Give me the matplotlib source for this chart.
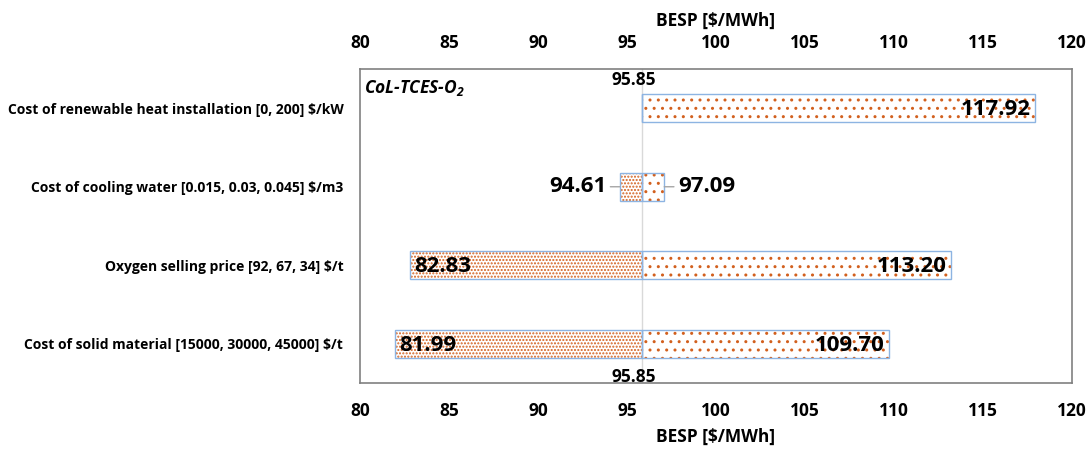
import matplotlib
matplotlib.use("Agg")
import matplotlib.pyplot as plt

# Tornado chart data (bottom to top)
categories = [
    "Cost of solid material [15000, 30000, 45000] $/t",
    "Oxygen selling price [92, 67, 34] $/t",
    "Cost of cooling water [0.015, 0.03, 0.045] $/m3",
    "Cost of renewable heat installation [0, 200] $/kW",
]
low_values = [81.99, 82.83, 94.61, 95.85]
high_values = [109.70, 113.20, 97.09, 117.92]
base_value = 95.85
x_ticks = [80, 85, 90, 95, 100, 105, 110, 115, 120]

plt.rcParams['font.family'] = ['Open Sans', 'DejaVu Sans']
plt.rcParams['font.weight'] = 'bold'
plt.rcParams['mathtext.fontset'] = 'custom'
plt.rcParams['mathtext.bfit'] = 'Open Sans:italic:bold'
plt.rcParams['mathtext.bf'] = 'Open Sans:italic:bold'
plt.rcParams['hatch.linewidth'] = 1.0

dot_color = '#D2601E'
edge_color = '#8DB4E2'

fig = plt.figure(figsize=(10.91, 4.53), dpi=100)
ax = fig.add_axes([0.33, 0.1545, 0.6526, 0.6932])

ypos = list(range(len(categories)))
bar_h = 0.36

ax.axvline(base_value, color='#D9D9D9', lw=1, zorder=0)

lw_left = [base_value - l for l in low_values]
lw_right = [h - base_value for h in high_values]

# left bars: dense dots
ax.barh(ypos, [-w for w in lw_left], left=base_value, height=bar_h,
        color='none', hatch='.....', edgecolor=dot_color, linewidth=0, zorder=2)
ax.barh(ypos, [-w for w in lw_left], left=base_value, height=bar_h,
        fill=False, edgecolor=edge_color, linewidth=1, zorder=3)
# right bars: sparse dots
ax.barh(ypos, lw_right, left=base_value, height=bar_h,
        color='none', hatch='..', edgecolor=dot_color, linewidth=0, zorder=2)
ax.barh(ypos, lw_right, left=base_value, height=bar_h,
        fill=False, edgecolor=edge_color, linewidth=1, zorder=3)

val_fs = 16
for i in ypos:
    lo, hi = low_values[i], high_values[i]
    if i == 2:
        ax.annotate(f"{lo:.2f}", xy=(lo, i), xytext=(-10, 0), textcoords='offset points',
                    ha='right', va='center', fontsize=val_fs, fontweight='bold',
                    arrowprops=dict(arrowstyle='-', color='#A6A6A6', lw=1, shrinkA=1, shrinkB=0))
        ax.annotate(f"{hi:.2f}", xy=(hi, i), xytext=(10, 0), textcoords='offset points',
                    ha='left', va='center', fontsize=val_fs, fontweight='bold',
                    arrowprops=dict(arrowstyle='-', color='#A6A6A6', lw=1, shrinkA=1, shrinkB=0))
    elif i == 3:
        ax.annotate(f"{lo:.2f}", xy=(lo, i + bar_h / 2), xytext=(-6, 10), textcoords='offset points',
                    ha='center', va='center', fontsize=12.5, fontweight='bold', zorder=5)
        ax.annotate(f"{hi:.2f}", xy=(hi, i), xytext=(-3, -1), textcoords='offset points',
                    ha='right', va='center', fontsize=val_fs, fontweight='bold', zorder=5)
    else:
        ax.annotate(f"{lo:.2f}", xy=(lo, i), xytext=(3, -1), textcoords='offset points',
                    ha='left', va='center', fontsize=val_fs, fontweight='bold', zorder=5)
        ax.annotate(f"{hi:.2f}", xy=(hi, i), xytext=(-3, -1), textcoords='offset points',
                    ha='right', va='center', fontsize=val_fs, fontweight='bold', zorder=5)

# base label below the bottom bar
ax.annotate(f"{base_value:.2f}", xy=(base_value, 0 - bar_h / 2), xytext=(-6, -14),
            textcoords='offset points', ha='center', va='center', fontsize=12.5, fontweight='bold')

ax.text(0.006, 0.94, r"CoL-TCES-O$_\mathbf{2}$", transform=ax.transAxes, fontsize=12.5,
        fontweight='bold', style='italic', ha='left', va='center')

ax.set_xlim(80, 120)
ax.set_ylim(-0.5, 3.5)
ax.set_xticks(x_ticks)
ax.set_xticklabels([str(t) for t in x_ticks], fontsize=12.5, fontweight='bold')
ax.tick_params(axis='x', length=0, pad=14)
ax.set_yticks(ypos)
ax.set_yticklabels(categories, fontsize=10, fontweight='bold')
ax.tick_params(axis='y', length=0, pad=12)
ax.set_xlabel("BESP [$/MWh]", fontsize=12.5, fontweight='bold', labelpad=5)

top = ax.secondary_xaxis('top')
top.set_xticks(x_ticks)
top.set_xticklabels([str(t) for t in x_ticks], fontsize=12.5, fontweight='bold')
top.tick_params(axis='x', length=0, pad=12)
top.set_xlabel("BESP [$/MWh]", fontsize=12.5, fontweight='bold', labelpad=6)
for s in top.spines.values():
    s.set_visible(False)

for s in ax.spines.values():
    s.set_color('#808080')
    s.set_linewidth(1.2)

fig.savefig('out.png', dpi=100)
